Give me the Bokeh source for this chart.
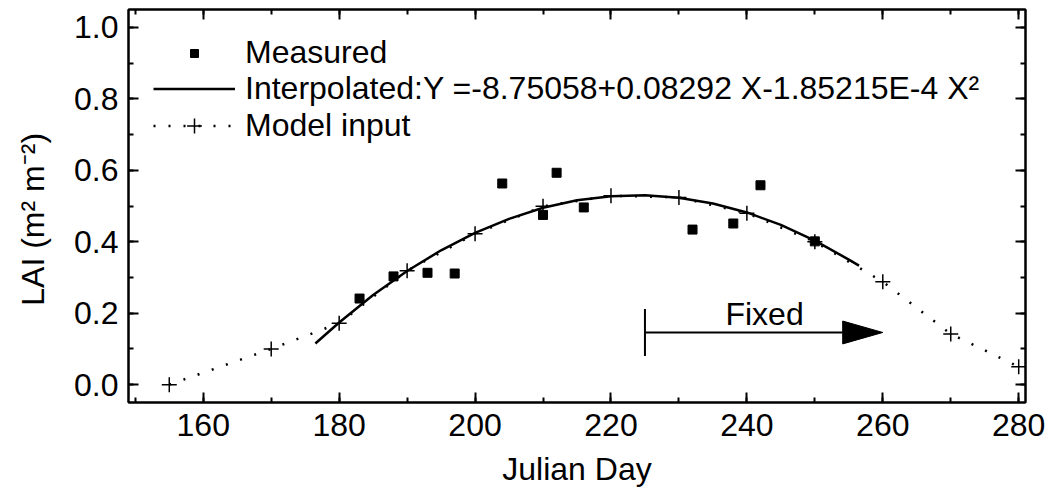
from bokeh.plotting import figure
from bokeh.models import (LinearAxis, SingleIntervalTicker, Range1d, Legend, LegendItem,
                          Label, Arrow, TeeHead, ColumnDataSource, PrintfTickFormatter,
                          CustomJSTickFormatter)
from bokeh.embed import file_html
from bokeh.resources import INLINE

# ---------------- data ----------------
measured_day = [183, 188, 193, 197, 204, 210, 212, 216, 232, 238, 242, 250]
measured_lai = [0.241, 0.303, 0.313, 0.311, 0.563, 0.475, 0.593, 0.496, 0.434, 0.451, 0.558, 0.401]

model_day = [155, 170, 180, 190, 200, 210, 220, 230, 240, 250, 260, 270, 280]
model_lai = [0.0, 0.10, 0.172, 0.319, 0.422, 0.499, 0.529, 0.524, 0.480, 0.400, 0.288, 0.142, 0.050]

interp_day = [176.5, 180, 185, 190, 195, 200, 205, 210, 215, 220, 225, 230, 235, 240, 245, 250, 255, 256.5]
interp_lai = [0.115, 0.174, 0.251, 0.318, 0.376, 0.425, 0.464, 0.495, 0.516, 0.527, 0.530, 0.523,
              0.507, 0.482, 0.447, 0.403, 0.350, 0.333]

x_ticks = [160, 180, 200, 220, 240, 260, 280]
y_ticks = [0.0, 0.2, 0.4, 0.6, 0.8, 1.0]

fixed_start, fixed_end, fixed_y = 225, 260, 0.146
fixed_label = "Fixed"
equation = "Interpolated:Y =-8.75058+0.08292 X-1.85215E-4 X\u00b2"

FONT = "Liberation Sans"
FS = "32px"

p = figure(width=1051, height=493, output_backend="svg", toolbar_location=None,
           x_range=Range1d(149, 281), y_range=Range1d(-0.05, 1.05),
           min_border_left=128, min_border_right=26, min_border_top=9, min_border_bottom=91,
           x_axis_type=None, y_axis_type=None)
p.grid.visible = False
p.outline_line_color = "black"
p.outline_line_width = 2
p.background_fill_color = "white"
p.border_fill_color = "white"

xt = SingleIntervalTicker(interval=20, num_minor_ticks=2)
yt = SingleIntervalTicker(interval=0.2, num_minor_ticks=2)


def style_axis(ax, labels=True):
    ax.axis_line_width = 2
    ax.axis_line_color = "black"
    ax.major_tick_in = 10
    ax.major_tick_out = 0
    ax.minor_tick_in = 5
    ax.minor_tick_out = 0
    ax.major_tick_line_width = 2
    ax.minor_tick_line_width = 2
    ax.major_tick_line_color = "black"
    ax.minor_tick_line_color = "black"
    if labels:
        ax.major_label_text_font = FONT
        ax.major_label_text_font_size = FS
        ax.major_label_text_color = "black"
        ax.axis_label_text_font = FONT
        ax.axis_label_text_font_size = FS
        ax.axis_label_text_font_style = "normal"
        ax.axis_label_text_color = "black"
    else:
        ax.formatter = CustomJSTickFormatter(code="return ''")
        ax.major_label_text_font_size = "1px"
        ax.major_label_text_color = None
        ax.major_label_standoff = 0


xb = LinearAxis(ticker=xt, axis_label="Julian Day")
style_axis(xb)
xb.major_label_standoff = 11
xb.axis_label_standoff = 12
p.add_layout(xb, "below")

yl = LinearAxis(ticker=yt, axis_label="LAI (m\u00b2 m\u207b\u00b2)\u00a0\u00a0\u00a0",
                formatter=PrintfTickFormatter(format="%.1f"))
style_axis(yl)
yl.major_label_standoff = 10
yl.axis_label_standoff = 20
p.add_layout(yl, "left")

xa = LinearAxis(ticker=xt)
style_axis(xa, labels=False)
p.add_layout(xa, "above")

yr = LinearAxis(ticker=yt)
style_axis(yr, labels=False)
p.add_layout(yr, "right")

# ---------------- glyphs ----------------
interp_src = ColumnDataSource(dict(x=interp_day, y=interp_lai))
model_src = ColumnDataSource(dict(x=model_day, y=model_lai))
meas_src = ColumnDataSource(dict(x=measured_day, y=measured_lai))

r_interp = p.line("x", "y", source=interp_src, line_color="black", line_width=2.5)
r_model_line = p.line("x", "y", source=model_src, line_color="black", line_width=2.5,
                      line_dash="2 13")
r_model_pts = p.scatter("x", "y", source=model_src, marker="cross", size=15,
                        line_color="black", line_width=1.5)
r_meas = p.scatter("x", "y", source=meas_src, marker="square", size=9,
                   fill_color="black", line_color="black")

# ---------------- legends ----------------
common = dict(glyph_width=82, label_height=37, label_standoff=10, padding=0, margin=0,
              spacing=0, border_line_color=None, background_fill_alpha=0,
              label_text_font=FONT, label_text_font_size=FS, label_text_color="black")
leg1 = Legend(items=[LegendItem(label="Measured", renderers=[r_meas])],
              location=(25, 331), glyph_height=20, **common)
leg2 = Legend(items=[LegendItem(label=equation, renderers=[r_interp]),
                     LegendItem(label="Model input", renderers=[r_model_line, r_model_pts])],
              location=(25, 258), glyph_height=37, **common)
p.add_layout(leg1)
p.add_layout(leg2)

# ---------------- "Fixed" arrow ----------------
head_len = 5.9    # days
head_half = 0.032  # LAI units
p.add_layout(Arrow(x_start=fixed_start, y_start=fixed_y, x_end=fixed_end - head_len, y_end=fixed_y,
                   line_color="black", line_width=2,
                   start=TeeHead(size=47, line_width=2, line_color="black"), end=None))
p.patch([fixed_end - head_len, fixed_end, fixed_end - head_len],
        [fixed_y + head_half, fixed_y, fixed_y - head_half],
        fill_color="black", line_color="black", line_width=1)
p.add_layout(Label(x=(fixed_start + fixed_end) / 2 + 0.1, y=0.198, text=fixed_label,
                   text_font=FONT, text_font_size=FS, text_align="center",
                   text_baseline="middle", text_color="black"))

open("out.html", "w").write(file_html(p, INLINE))
